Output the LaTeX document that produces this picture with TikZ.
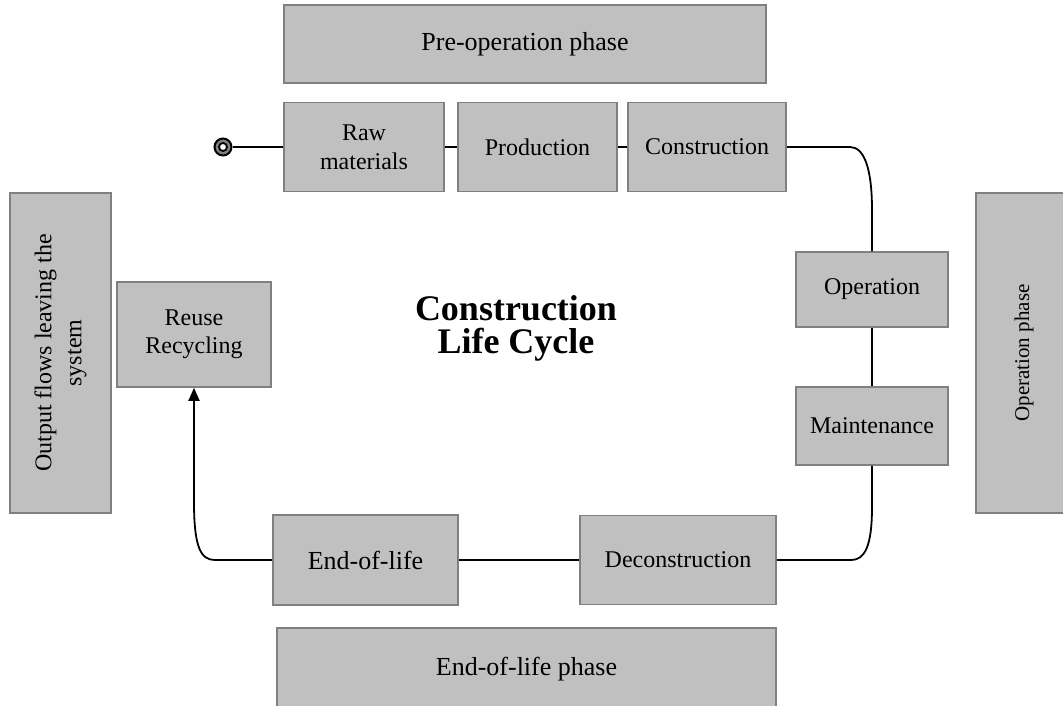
\documentclass[tikz,border=0pt]{standalone}
\usepackage{fontspec}
\setmainfont{Liberation Serif}
\usetikzlibrary{arrows.meta}
\definecolor{boxfill}{HTML}{C0C0C0}
\definecolor{boxline}{HTML}{808080}
\tikzset{
  stagebox/.style={draw=boxline, fill=boxfill, line width=1.6pt, inner sep=0pt,
    align=center, font=\fontsize{24}{28}\selectfont},
  phasebox/.style={stagebox, font=\fontsize{26}{30}\selectfont},
  flow/.style={line width=1.8pt, black},
}
\begin{document}
\begin{tikzpicture}[x=1pt, y=-1pt]
\useasboundingbox (0,0) rectangle (1063,705);

% phase boxes
\node[phasebox, minimum width=482, minimum height=78] (pre) at (525,44) {Pre-operation phase};
\node[phasebox, minimum width=499, minimum height=82] (eolph) at (526.5,669) {End-of-life phase};
\node[stagebox, rotate=90, minimum width=320, minimum height=96,
      font=\fontsize{21}{25}\selectfont] (opph) at (1024,353) {Operation phase};
\node[stagebox, rotate=90, minimum width=320, minimum height=101,
      font=\fontsize{24}{30}\selectfont] (out) at (60.5,353) {Output flows leaving the\\system};

% stage boxes
\node[stagebox, minimum width=160, minimum height=89, font=\fontsize{24}{29}\selectfont] (raw) at (364,147) {Raw\\materials};
\node[stagebox, minimum width=159, minimum height=89] (prod) at (537.5,147) {Production};
\node[stagebox, minimum width=158, minimum height=89] (cons) at (707,147) {Construction};
\node[stagebox, minimum width=152, minimum height=75] (op) at (872,289.5) {Operation};
\node[stagebox, minimum width=152, minimum height=78] (maint) at (872,426) {Maintenance};
\node[stagebox, minimum width=196, minimum height=89] (dec) at (678,560) {Deconstruction};
\node[stagebox, minimum width=185, minimum height=90, font=\fontsize{26}{30}\selectfont] (eol) at (365.5,560) {End-of-life};
\node[stagebox, minimum width=154, minimum height=105] (reuse) at (194,334.5) {Reuse\\Recycling};

% title
\node[align=center, font=\fontsize{36}{33}\bfseries\selectfont] (title) at (516,328) {Construction\\Life Cycle};

% start marker
\node[circle, draw=black, fill=boxline, line width=2pt, minimum size=17pt, inner sep=0pt] (start) at (223,147) {};
\node[circle, draw=black, fill=white, line width=1.8pt, minimum size=8pt, inner sep=0pt] (startin) at (start) {};

% connectors
\draw[flow] (start) -- (raw);
\draw[flow] (raw) -- (prod);
\draw[flow] (prod) -- (cons);
\draw[flow] (cons.east) -- (850,147) .. controls (864,147) and (872,168) .. (872,210) -- (op.north);
\draw[flow] (op) -- (maint);
\draw[flow] (maint.south) -- (872,507) .. controls (872,548) and (864,560) .. (851,560) -- (dec.east);
\draw[flow] (dec) -- (eol);
\draw[flow, -{Triangle[length=13pt, width=11pt]}] (eol.west) -- (215,560) .. controls (201,560) and (194,548) .. (194,502) -- (reuse.south);
\end{tikzpicture}
\end{document}
